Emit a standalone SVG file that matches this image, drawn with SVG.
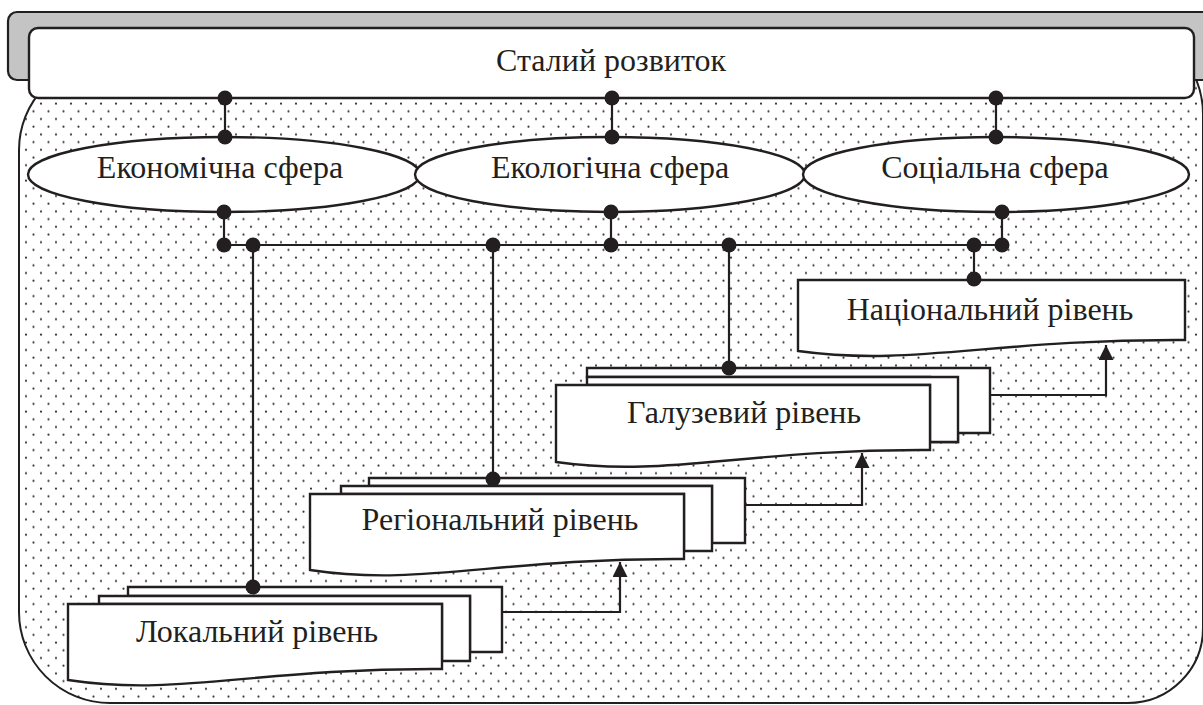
<svg xmlns="http://www.w3.org/2000/svg" width="1203" height="705" viewBox="0 0 1203 705">
<style>
.ln{stroke:#231f20;stroke-width:2.2;fill:none}
.bx{stroke:#231f20;stroke-width:2.4;fill:#fff}
.dt{fill:#231f20}
text{font-family:"Liberation Serif","DejaVu Serif",serif;font-size:32px;fill:#231f20;text-anchor:middle}
</style>
<defs>
<pattern id="dots" width="15" height="15.4" patternUnits="userSpaceOnUse">
<circle cx="3.5" cy="3.5" r="1.1" fill="#333"/>
<circle cx="11" cy="11.2" r="1.1" fill="#333"/>
</pattern>
<marker id="ah" viewBox="0 0 15 15" refX="15" refY="7.5" markerWidth="15" markerHeight="15" markerUnits="userSpaceOnUse" orient="auto">
<path d="M0,0 L15,7.5 L0,15 Z" fill="#231f20"/>
</marker>
</defs>
<rect width="1203" height="705" fill="#fff"/>
<g id="background">
<path d="M110,60 L1113,24 A90,90 0 0 1 1203,114 V628 A75,75 0 0 1 1128,703 H110 A91,91 0 0 1 19,612 V150 A90,90 0 0 1 110,60 Z" fill="url(#dots)" stroke="#231f20" stroke-width="2"/>
</g>
<g id="frame">
<rect x="8" y="12" width="1215" height="68" rx="9" fill="#c4c4c4" stroke="#231f20" stroke-width="2.2"/>
</g>
<g id="n-stalyi">
<rect x="29" y="28" width="1165" height="70" rx="9" class="bx"/>
<text x="611" y="71" font-family="Liberation Serif, serif">Сталий розвиток</text>
</g>
<g id="n-econ">
<ellipse cx="224" cy="174.5" rx="196" ry="37.5" class="bx"/>
<text x="220" y="178" font-family="Liberation Serif, serif">Економічна сфера</text>
</g>
<g id="n-ecol">
<ellipse cx="610" cy="174.5" rx="195" ry="37.5" class="bx"/>
<text x="610" y="178" font-family="Liberation Serif, serif">Екологічна сфера</text>
</g>
<g id="n-soc">
<ellipse cx="996" cy="174.5" rx="193" ry="37.5" class="bx"/>
<text x="995" y="178" font-family="Liberation Serif, serif">Соціальна сфера</text>
</g>
<g id="n-national">
<path d="M798,280 H1185 V340 C992,339 914,367 798,351 Z" class="bx"/>
<text x="990" y="320" font-family="Liberation Serif, serif">Національний рівень</text>
</g>
<g id="n-galuz">
<path d="M615,368 H990 V433 H958 V442 H930 V377 H587 V368 Z" class="bx"/>
<path d="M587,377 H958 V442 H930 V385 H587 Z" class="bx"/>
<path d="M556,385 H930 V450 C743,449 668,478 556,462 Z" class="bx"/>
<text x="744" y="423" font-family="Liberation Serif, serif">Галузевий рівень</text>
</g>
<g id="n-region">
<path d="M369,478 H745 V543 H712 V486 H369 Z" class="bx"/>
<path d="M341,486 H712 V551 H684 V494 H341 Z" class="bx"/>
<path d="M310,494 H684 V559 C497,558 422,587 310,570 Z" class="bx"/>
<text x="500" y="530" font-family="Liberation Serif, serif">Регіональний рівень</text>
</g>
<g id="n-local">
<path d="M128,587 H502 V652 H470 V596 H128 Z" class="bx"/>
<path d="M99,596 H470 V661 H442 V604 H99 Z" class="bx"/>
<path d="M68,604 H442 V669 C255,668 180,697 68,680 Z" class="bx"/>
<text x="257" y="642" font-family="Liberation Serif, serif">Локальний рівень</text>
</g>
<g id="connectors">
<path class="ln" d="M225,98 V137 M612,98 V137 M996,98 V137"/>
<path class="ln" d="M224,212 V245 M611,212 V245 M1002,212 V245 M224,245 H1002"/>
<path class="ln" d="M253,245 V587 M493,245 V479 M729,245 V368 M974,245 V280"/>
<path class="ln" d="M502,612 H620 V562" marker-end="url(#ah)"/>
<path class="ln" d="M745,505 H862 V453" marker-end="url(#ah)"/>
<path class="ln" d="M990,395 H1106 V345" marker-end="url(#ah)"/>
<g class="dt">
<circle cx="225" cy="98" r="7.5"/><circle cx="225" cy="137" r="7.5"/>
<circle cx="612" cy="98" r="7.5"/><circle cx="612" cy="137" r="7.5"/>
<circle cx="996" cy="98" r="7.5"/><circle cx="996" cy="137" r="7.5"/>
<circle cx="224" cy="212" r="7.5"/><circle cx="611" cy="212" r="7.5"/><circle cx="1002" cy="212" r="7.5"/>
<circle cx="224" cy="245" r="7.5"/><circle cx="253" cy="245" r="7.5"/><circle cx="493" cy="245" r="7.5"/>
<circle cx="611" cy="245" r="7.5"/><circle cx="729" cy="245" r="7.5"/><circle cx="974" cy="245" r="7.5"/><circle cx="1002" cy="245" r="7.5"/>
<circle cx="253" cy="587" r="7.5"/><circle cx="493" cy="479" r="7.5"/><circle cx="729" cy="368" r="7.5"/><circle cx="974" cy="279" r="7.5"/>
</g>
</g>
</svg>
